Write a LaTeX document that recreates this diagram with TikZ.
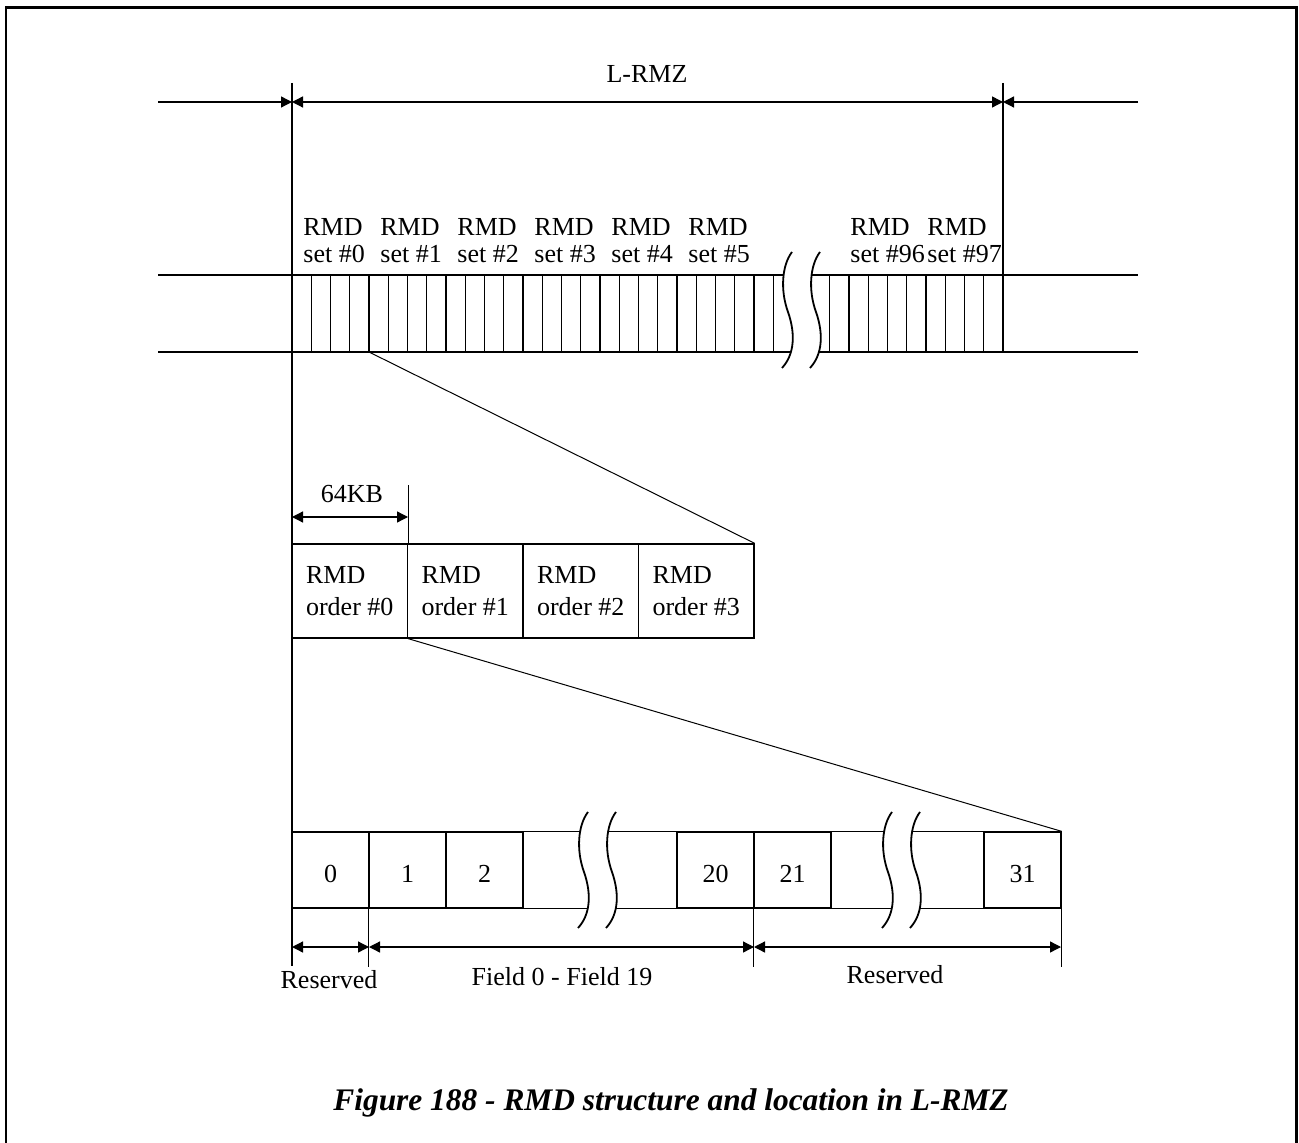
\documentclass[tikz,border=0pt]{standalone}
\usepackage{fontspec}
\setmainfont{Liberation Serif}
\usepackage{tikz}
\usetikzlibrary{arrows.meta}

\begin{document}
\begin{tikzpicture}[x=0.5pt, y=-0.5pt, >={Triangle[length=5.5pt, width=5.5pt]},
    dimline/.style={line width=0.65pt},
    thinline/.style={line width=0.5pt},
    stripline/.style={line width=1.1pt},
    brk/.style={line width=0.9pt},
    textlabel/.style={font=\fontsize{13}{13.5}\selectfont, inner sep=0pt},
    setlabel/.style={textlabel, align=left, anchor=north west},
    orderbox/.style={draw, line width=0.65pt, minimum width=57.75pt, minimum height=47pt,
        inner sep=0pt, align=left, font=\fontsize{13}{16}\selectfont},
    cell/.style={draw, line width=0.65pt, minimum width=38.5pt, minimum height=38pt,
        inner sep=0pt, text height=12.8pt, text depth=0pt, font=\fontsize{13}{13.5}\selectfont}]
    \useasboundingbox (0,0) rectangle (1299,1143);

    % 1. Khung ngoài
    \draw[line width=1.15pt] (6,1143) -- (6,7.5) -- (1296.5,7.5) -- (1296.5,1143);

    % 2. Kích thước L-RMZ
    \coordinate (zL) at (292,102);
    \coordinate (zR) at (1003,102);
    \draw[dimline] (292,83) -- (292,966);
    \draw[dimline] (1003,83) -- (1003,275);
    \draw[dimline, ->] (158,102) -- (zL);
    \draw[dimline, <->] (zL) -- (zR);
    \draw[dimline, ->] (1138,102) -- (zR);
    \node[textlabel, anchor=base] (lrmz) at (647,83) {L-RMZ};

    % 3. Dải RMD set
    \draw[dimline] (158,275) -- (292,275) (158,352) -- (292,352);
    \draw[dimline] (1003,275) -- (1138,275) (1003,352) -- (1138,352);
    \foreach \k in {1,...,25}
        \draw[thinline] ({292+19.25*\k},275) -- ++(0,77);
    \foreach \k in {1,...,9}
        \draw[thinline] ({1003-19.25*\k},275) -- ++(0,77);
    \foreach \k in {1,...,6}
        \draw[stripline] ({292+77*\k},275) -- ++(0,77);
    \draw[stripline] (849,275) -- ++(0,77) (926,275) -- ++(0,77);
    \draw[stripline] (292,275) rectangle (1003,352);
    \coordinate (s1) at (369,352);

    % 4. Nhãn RMD set
    \foreach \k in {0,...,5}
        \node[setlabel] (set\k) at ({303+77*\k},218) {RMD\\set \#\k};
    \node[setlabel] (set96) at (850,218) {RMD\\set \#96};
    \node[setlabel] (set97) at (927,218) {RMD\\set \#97};

    % 5. Các khối RMD order
    \foreach \k in {0,...,3}
        \node[orderbox] (ord\k) at ({349.75+115.5*\k},591) {RMD\\order \#\k};
    \draw[thinline] (s1) -- (ord3.north east);

    % 6. Kích thước 64KB
    \coordinate (kbL) at (292,517);
    \coordinate (kbR) at (408,517);
    \draw[dimline] (ord0.north east) -- ++(0,-58);
    \draw[dimline, <->] (kbL) -- (kbR);
    \node[textlabel, anchor=base] (kb) at (352,503) {64KB};

    % 7. Hàng trường 0..31
    \node[cell] (c0) at (330.5,870) {0};
    \node[cell] (c1) at (407.5,870) {1};
    \node[cell] (c2) at (484.5,870) {2};
    \node[cell] (c20) at (715.5,870) {20};
    \node[cell] (c21) at (792.5,870) {21};
    \node[cell] (c31) at (1022.5,870) {31};
    \draw[dimline] (c2.north east) -- (c20.north west) (c2.south east) -- (c20.south west);
    \draw[dimline] (c21.north east) -- (c31.north west) (c21.south east) -- (c31.south west);
    \draw[thinline] (ord0.south east) -- (c31.north east);

    % 8. Ký hiệu ngắt
    \foreach \dx/\dy in {0/0, -204/560, 100/560} {
      \begin{scope}[shift={(\dx,\dy)}]
        \fill[white] (792,252) .. controls (782,265) and (780,290) .. (788,312)
            .. controls (796,335) and (794,355) .. (782,368) -- (810,368)
            .. controls (822,355) and (824,335) .. (816,312)
            .. controls (808,290) and (810,265) .. (820,252) -- cycle;
        \draw[brk] (792,252) .. controls (782,265) and (780,290) .. (788,312)
            .. controls (796,335) and (794,355) .. (782,368);
        \draw[brk] (820,252) .. controls (810,265) and (808,290) .. (816,312)
            .. controls (824,335) and (822,355) .. (810,368);
      \end{scope}
    }

    % 9. Kích thước dưới
    \coordinate (d0) at (292,947);
    \coordinate (d1) at (369,947);
    \coordinate (d2) at (754,947);
    \coordinate (d3) at (1061,947);
    \draw[dimline] (c1.south west) -- ++(0,58) (c21.south west) -- ++(0,58)
        (c31.south east) -- ++(0,58);
    \draw[dimline, <->] (d0) -- (d1);
    \draw[dimline, <->] (d1) -- (d2);
    \draw[dimline, <->] (d2) -- (d3);
    \node[textlabel, anchor=base] (res0) at (329,988) {Reserved};
    \node[textlabel, anchor=base] (fld) at (562,985) {Field 0 - Field 19};
    \node[textlabel, anchor=base] (res1) at (895,983) {Reserved};

    % 10. Chú thích
    \node[font=\bfseries\itshape\fontsize{15.7}{18}\selectfont, inner sep=0pt, anchor=base]
        (cap) at (671,1110) {Figure 188 - RMD structure and location in L-RMZ};
\end{tikzpicture}
\end{document}
